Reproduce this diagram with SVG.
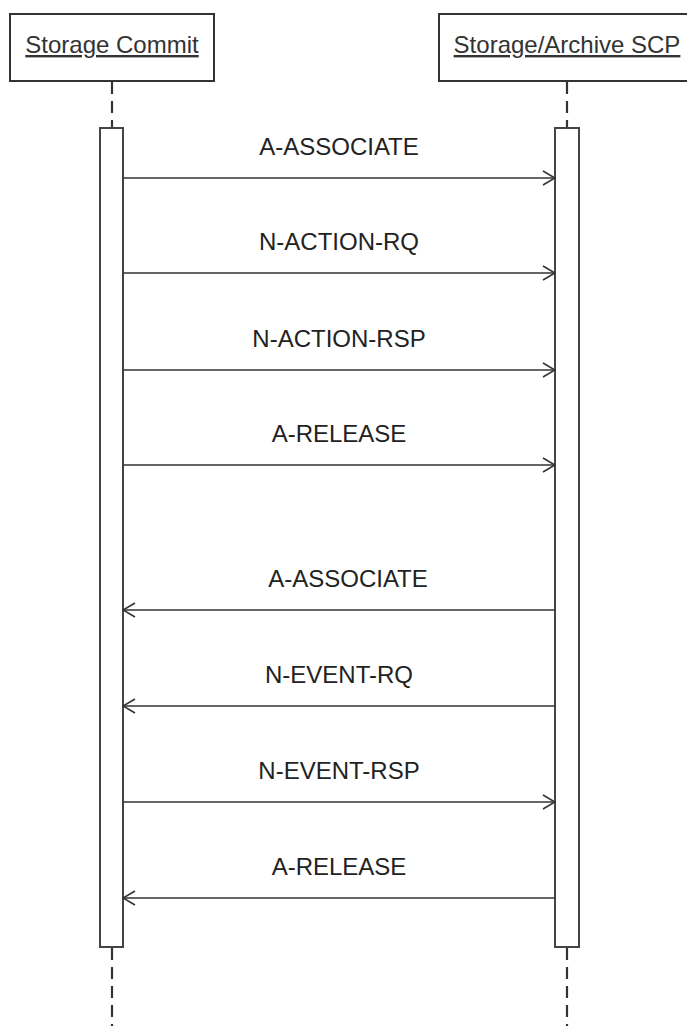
<svg xmlns="http://www.w3.org/2000/svg" width="687" height="1026" viewBox="0 0 687 1026">
<defs>
<style>
.box{fill:#fff;stroke:#333;stroke-width:2}
.act{fill:#fff;stroke:#444;stroke-width:2}
.life{stroke:#333;stroke-width:2.2;stroke-dasharray:12 7;fill:none}
.msg{stroke:#333;stroke-width:1.6;fill:none}
.lbl{font-family:"Liberation Sans",Arial,sans-serif;font-size:24px;fill:#222;text-anchor:middle}
.title{font-family:"Liberation Sans",Arial,sans-serif;font-size:24px;fill:#333;text-anchor:middle;text-decoration:underline}
</style>
<marker id="ah" viewBox="0 0 14 16" refX="13" refY="8" markerWidth="14" markerHeight="16" markerUnits="userSpaceOnUse" orient="auto">
<path d="M1,1 L13,8 L1,15" fill="none" stroke="#333" stroke-width="1.6"/>
</marker>
</defs>
<rect width="687" height="1026" fill="#fff"/>
<g id="lifelines">
<line class="life" x1="112" y1="82" x2="112" y2="128"/>
<line class="life" x1="112" y1="948" x2="112" y2="1026"/>
<line class="life" x1="567" y1="82" x2="567" y2="128"/>
<line class="life" x1="567" y1="948" x2="567" y2="1026"/>
</g>
<g id="node-storage-commit">
<rect class="box" x="10" y="14" width="204" height="67"/>
<text class="title" x="112" y="53">Storage Commit</text>
<rect class="act" x="100" y="128" width="23" height="819"/>
</g>
<g id="node-storage-archive-scp">
<rect class="box" x="439" y="14" width="256" height="67"/>
<text class="title" x="567" y="53">Storage/Archive SCP</text>
<rect class="act" x="555" y="128" width="24" height="819"/>
</g>
<g id="connectors">
<line class="msg" x1="123" y1="178" x2="555" y2="178" marker-end="url(#ah)"/>
<line class="msg" x1="123" y1="273" x2="555" y2="273" marker-end="url(#ah)"/>
<line class="msg" x1="123" y1="370" x2="555" y2="370" marker-end="url(#ah)"/>
<line class="msg" x1="123" y1="465" x2="555" y2="465" marker-end="url(#ah)"/>
<line class="msg" x1="555" y1="610" x2="123" y2="610" marker-end="url(#ah)"/>
<line class="msg" x1="555" y1="706" x2="123" y2="706" marker-end="url(#ah)"/>
<line class="msg" x1="123" y1="802" x2="555" y2="802" marker-end="url(#ah)"/>
<line class="msg" x1="555" y1="898" x2="123" y2="898" marker-end="url(#ah)"/>
</g>
<g id="labels">
<text class="lbl" x="339" y="155">A-ASSOCIATE</text>
<text class="lbl" x="339" y="250">N-ACTION-RQ</text>
<text class="lbl" x="339" y="347">N-ACTION-RSP</text>
<text class="lbl" x="339" y="442">A-RELEASE</text>
<text class="lbl" x="348" y="587">A-ASSOCIATE</text>
<text class="lbl" x="339" y="683">N-EVENT-RQ</text>
<text class="lbl" x="339" y="779">N-EVENT-RSP</text>
<text class="lbl" x="339" y="875">A-RELEASE</text>
</g>
</svg>
